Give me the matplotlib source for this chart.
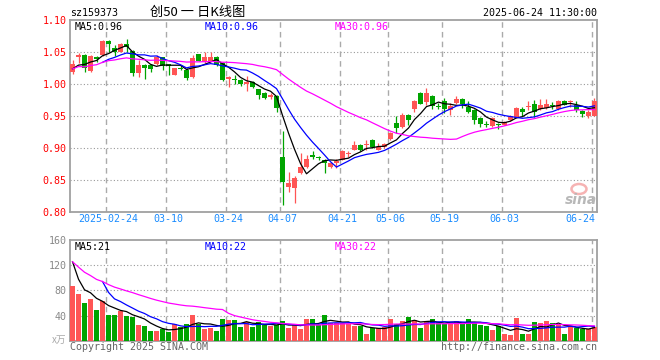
import pandas as pd
import matplotlib.pyplot as plt
from matplotlib.patches import Ellipse

# ---- data ----
holidays = ['2025-04-04', '2025-05-01', '2025-05-02', '2025-05-05', '2025-06-02']
dates = pd.bdate_range('2025-02-14', '2025-06-24', freq='C', holidays=holidays)

opens = [1.020, 1.042, 1.046, 1.021, 1.042, 1.046, 1.067, 1.056, 1.051, 1.063,
         1.052, 1.017, 1.030, 1.030, 1.031, 1.042, 1.031, 1.015, 1.026, 1.023,
         1.012, 1.047, 1.035, 1.037, 1.043, 1.033, 1.009, 1.008, 1.006, 1.000,
         1.004, 0.992, 0.987, 0.980, 0.982, 0.887, 0.839, 0.838, 0.861, 0.871,
         0.890, 0.886, 0.882, 0.871, 0.877, 0.882, 0.891, 0.898, 0.905, 0.905,
         0.913, 0.898, 0.902, 0.914, 0.940, 0.933, 0.952, 0.962, 0.987, 0.972,
         0.982, 0.966, 0.974, 0.960, 0.971, 0.977, 0.965, 0.960, 0.948, 0.938,
         0.935, 0.938, 0.937, 0.944, 0.948, 0.961, 0.964, 0.969, 0.961, 0.963,
         0.967, 0.961, 0.974, 0.972, 0.968, 0.959, 0.951, 0.950]
highs = [1.038, 1.049, 1.047, 1.046, 1.045, 1.069, 1.069, 1.061, 1.064, 1.071,
         1.053, 1.038, 1.031, 1.032, 1.046, 1.043, 1.032, 1.026, 1.030, 1.025,
         1.046, 1.048, 1.050, 1.050, 1.045, 1.035, 1.013, 1.015, 1.008, 1.013,
         1.005, 0.993, 0.988, 0.987, 0.983, 0.927, 0.863, 0.857, 0.892, 0.890,
         0.896, 0.888, 0.883, 0.879, 0.883, 0.897, 0.896, 0.911, 0.906, 0.913,
         0.914, 0.908, 0.909, 0.925, 0.950, 0.955, 0.953, 0.975, 0.988, 0.994,
         0.983, 0.971, 0.978, 0.971, 0.982, 0.978, 0.974, 0.961, 0.949, 0.943,
         0.949, 0.940, 0.942, 0.952, 0.965, 0.965, 0.974, 0.975, 0.977, 0.977,
         0.973, 0.975, 0.975, 0.975, 0.974, 0.960, 0.960, 0.978]
lows = [1.016, 1.033, 1.019, 1.019, 1.035, 1.045, 1.050, 1.045, 1.050, 1.051,
        1.013, 1.011, 1.009, 1.020, 1.030, 1.022, 1.015, 1.014, 1.022, 1.007,
        1.010, 1.036, 1.034, 1.036, 1.029, 1.005, 0.996, 1.000, 0.998, 0.990,
        0.994, 0.977, 0.977, 0.977, 0.957, 0.811, 0.832, 0.815, 0.860, 0.870,
        0.883, 0.881, 0.862, 0.869, 0.869, 0.881, 0.886, 0.897, 0.896, 0.897,
        0.901, 0.897, 0.901, 0.913, 0.924, 0.932, 0.937, 0.957, 0.969, 0.968,
        0.961, 0.961, 0.955, 0.952, 0.970, 0.963, 0.955, 0.938, 0.934, 0.934,
        0.934, 0.930, 0.936, 0.943, 0.947, 0.950, 0.960, 0.949, 0.960, 0.962,
        0.961, 0.960, 0.967, 0.965, 0.956, 0.949, 0.947, 0.950]
closes = [1.031, 1.046, 1.025, 1.044, 1.040, 1.068, 1.063, 1.050, 1.063, 1.059,
          1.018, 1.030, 1.025, 1.024, 1.043, 1.029, 1.028, 1.025, 1.024, 1.010,
          1.041, 1.037, 1.043, 1.043, 1.030, 1.007, 1.011, 1.006, 1.000, 1.004,
          0.996, 0.984, 0.979, 0.983, 0.963, 0.848, 0.846, 0.853, 0.871, 0.883,
          0.887, 0.885, 0.877, 0.877, 0.880, 0.896, 0.893, 0.905, 0.898, 0.907,
          0.902, 0.902, 0.907, 0.924, 0.931, 0.952, 0.944, 0.974, 0.970, 0.986,
          0.966, 0.965, 0.961, 0.966, 0.977, 0.969, 0.956, 0.944, 0.938, 0.937,
          0.947, 0.937, 0.941, 0.950, 0.963, 0.956, 0.966, 0.956, 0.968, 0.970,
          0.966, 0.974, 0.968, 0.973, 0.960, 0.954, 0.956, 0.974]
volumes = [87, 74.4, 60, 66.4, 48.8, 63.2, 40.8, 40.8, 47.2, 39.2,
           38.1, 24.8, 23.2, 15.2, 15.2, 18.4, 14.1, 25.9, 22.1, 26.4,
           40.8, 26.4, 18.4, 20.5, 15.2, 34.4, 32.8, 32.8, 22.1, 29.1,
           22.1, 30.1, 24.8, 23.2, 24.8, 31.2, 20.5, 24.8, 18.4, 34.4,
           34.4, 24.8, 40.8, 27.5, 27.5, 27.5, 25.9, 23.2, 23.2, 10.4,
           20.5, 20.5, 22.1, 34.4, 25.9, 31.7, 37.6, 32.8, 20.5, 30.1,
           34.4, 29.1, 25.9, 27.5, 31.2, 27.5, 34.4, 27.5, 24.8, 23.2,
           16.8, 23.5, 10.4, 8.3, 36, 10.4, 10.4, 29.1, 27.5, 31.2,
           27.5, 24.8, 10.4, 24, 20, 19, 19, 22]

# the four days before the visible window, inferred from where the MA lines start
pre_close = [1.016, 1.020, 1.025, 1.028]
pre_vol = [213, 144, 90, 93]

tick_dates = ['2025-02-24', '2025-03-10', '2025-03-24', '2025-04-07', '2025-04-21',
              '2025-05-06', '2025-05-19', '2025-06-03', '2025-06-24']
tick_labels = ['2025-02-24', '03-10', '03-24', '04-07', '04-21', '05-06', '05-19', '06-03', '06-24']

df = pd.DataFrame({'open': opens, 'high': highs, 'low': lows, 'close': closes, 'vol': volumes}, index=dates)
n = len(df)

# moving averages, with the short pre-history in front
c_all = pd.Series(pre_close + closes)
v_all = pd.Series(pre_vol + volumes)
k = len(pre_close)
ma = {
    'p5': c_all.rolling(5).mean().values[k:],
    'p10': c_all.rolling(10).mean().values[k:],
    'p30': c_all.rolling(30, min_periods=1).mean().values[k:],
    'v5': v_all.rolling(5).mean().values[k:],
    'v10': v_all.rolling(10).mean().values[k:],
    'v30': v_all.rolling(30, min_periods=1).mean().values[k:],
}

RED = '#ff5555'
GREEN = '#00a400'
GRID = '#aaaaaa'
BORDER = '#a0a0a0'
MONO = 'DejaVu Sans Mono'
CJK = ['Noto Sans CJK SC', 'DejaVu Sans']

W, H = 660, 360
fig = plt.figure(figsize=(6.6, 3.6), dpi=100)
ax1 = fig.add_axes([70 / W, 1 - 212.3 / H, 527 / W, 192 / H])
ax2 = fig.add_axes([70 / W, 1 - 340.7 / H, 527 / W, 100.7 / H])

x = list(range(n))
up = [c >= o for o, c in zip(opens, closes)]
cols = [RED if u else GREEN for u in up]
tick_idx = [df.index.get_loc(pd.Timestamp(d)) for d in tick_dates]

# ---- candles ----
ax1.vlines(x, df['low'], df['high'], colors=cols, linewidth=0.9, zorder=3)
body_lo = [min(o, c) for o, c in zip(opens, closes)]
body_h = [max(abs(c - o), 0.0012) for o, c in zip(opens, closes)]
ax1.bar(x, body_h, bottom=body_lo, width=0.83, color=cols, linewidth=0, zorder=4)

ax1.plot(x, ma['p5'], color='black', linewidth=0.9, zorder=5)
ax1.plot(x, ma['p10'], color='#0000ff', linewidth=0.9, zorder=5)
ax1.plot(x, ma['p30'], color='#ff00ff', linewidth=0.9, zorder=5)

ax1.set_xlim(-0.42, n - 0.58)
ax1.set_ylim(0.80, 1.10)
ax1.set_yticks([0.80, 0.85, 0.90, 0.95, 1.00, 1.05, 1.10])
ax1.set_yticklabels(['%.2f' % v for v in ax1.get_yticks()], color='red', family=MONO, fontsize=7.2)
for yv in [0.85, 0.90, 0.95, 1.00, 1.05]:
    ax1.axhline(yv, color='#999999', linewidth=0.8, linestyle=(0, (1, 2)), zorder=1)

# ---- volume ----
ax2.bar(x, df['vol'], width=0.83, color=cols, linewidth=0, zorder=3)
ax2.plot(x, ma['v5'], color='black', linewidth=0.9, zorder=5)
ax2.plot(x, ma['v10'], color='#0000ff', linewidth=0.9, zorder=5)
ax2.plot(x, ma['v30'], color='#ff00ff', linewidth=0.9, zorder=5)
ax2.set_xlim(-0.42, n - 0.58)
ax2.set_ylim(0, 160)
ax2.set_yticks([40, 80, 120, 160])
ax2.set_yticklabels(['40', '80', '120', '160'], color='#888888', family=MONO, fontsize=7.2)
for yv in [40, 80, 120]:
    ax2.axhline(yv, color='#999999', linewidth=0.8, linestyle=(0, (1, 2)), zorder=1)

for ax in (ax1, ax2):
    ax.set_xticks([])
    ax.tick_params(axis='y', length=0, pad=2.5)
    for i in tick_idx:
        ax.axvline(i - 0.42, color=GRID, linewidth=1.0, linestyle=(0, (4, 3)), zorder=1)
    for s in ax.spines.values():
        s.set_color(BORDER)
        s.set_linewidth(1.3)

# date labels under the price panel
x0, px_per = 70, 6.0
for i, lab in zip(tick_idx, tick_labels):
    xp = x0 + (i + 0.42) * px_per
    if lab == tick_labels[-1]:
        fig.text(595 / W, 1 - 219 / H, lab, ha='right', va='center', color='#1a8cff', family=MONO, fontsize=7.2)
    else:
        fig.text(xp / W, 1 - 219 / H, lab, ha='center', va='center', color='#1a8cff', family=MONO, fontsize=7.2)

# ---- header and legend texts ----
fig.text(70 / W, 1 - 12.5 / H, 'sz159373', ha='left', va='center', family=MONO, fontsize=7.2)
fig.text(150 / W, 1 - 12 / H, '创50 一 日K线图', ha='left', va='center', family=CJK, fontsize=9.5)
fig.text(597 / W, 1 - 12.5 / H, '2025-06-24 11:30:00', ha='right', va='center', family=MONO, fontsize=7.2)

fig.text(75 / W, 1 - 27 / H, 'MA5:0.96', ha='left', va='center', color='black', family=MONO, fontsize=7.2)
fig.text(205 / W, 1 - 27 / H, 'MA10:0.96', ha='left', va='center', color='#0000ff', family=MONO, fontsize=7.2)
fig.text(335 / W, 1 - 27 / H, 'MA30:0.96', ha='left', va='center', color='#ff00ff', family=MONO, fontsize=7.2)

fig.text(75 / W, 1 - 247 / H, 'MA5:21', ha='left', va='center', color='black', family=MONO, fontsize=7.2)
fig.text(205 / W, 1 - 247 / H, 'MA10:22', ha='left', va='center', color='#0000ff', family=MONO, fontsize=7.2)
fig.text(335 / W, 1 - 247 / H, 'MA30:22', ha='left', va='center', color='#ff00ff', family=MONO, fontsize=7.2)

fig.text(66 / W, 1 - 340 / H, 'x万', ha='right', va='center', color='#aaaaaa', family=CJK, fontsize=7, style='italic')
fig.text(70 / W, 1 - 346.5 / H, 'Copyright 2025 SINA.COM', ha='left', va='center', color='#666666', family=MONO, fontsize=7.2)
fig.text(597 / W, 1 - 346.5 / H, 'http://finance.sina.com.cn', ha='right', va='center', color='#666666', family=MONO, fontsize=7.2)

# sina watermark
fig.patches.append(Ellipse((579 / W, 1 - 189 / H), 15 / W, 10 / H, transform=fig.transFigure,
                           facecolor='none', edgecolor='#f4a0a0', linewidth=1.8, alpha=0.8))
fig.text(581 / W, 1 - 200 / H, 'sina', ha='center', va='center', color='#b8b8b8',
         fontsize=10, fontweight='bold', style='italic', family='DejaVu Sans')

fig.savefig('out.png', dpi=100)
